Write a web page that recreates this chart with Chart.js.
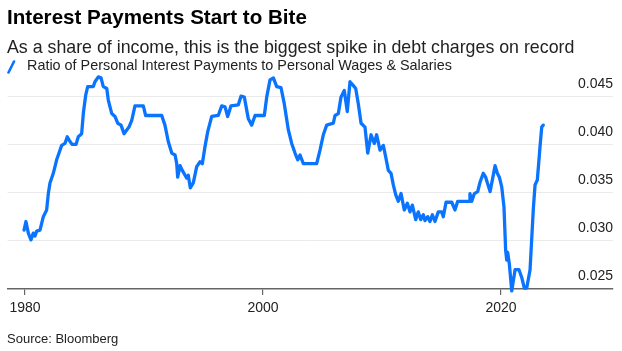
<!DOCTYPE html>
<html>
<head>
<meta charset="utf-8">
<script src="https://cdn.jsdelivr.net/npm/chart.js@4"></script>
<style>
  html, body { margin: 0; padding: 0; background: #fff; }
  body { width: 622px; height: 351px; position: relative; overflow: hidden; font-family: "Liberation Sans", Arial, sans-serif; color: #111; }
  .txt { position: absolute; left: 7px; white-space: nowrap; line-height: 1; }
  #title { top: 7.3px; font-size: 20.6px; font-weight: bold; color: #000; }
  #subtitle { top: 38.9px; font-size: 17.8px; color: #222; }
  #legend { top: 57.8px; left: 27px; font-size: 14.4px; color: #222; }
  #legendIcon { position: absolute; left: 7px; top: 60px; }
  #source { top: 332.3px; font-size: 13px; color: #222; }
  #wrap { position: absolute; left: 0; top: 0; width: 622px; height: 351px; }
</style>
</head>
<body>
<div id="wrap"><canvas id="chart"></canvas></div>
<div class="txt" id="title">Interest Payments Start to Bite</div>
<div class="txt" id="subtitle">As a share of income, this is the biggest spike in debt charges on record</div>
<svg id="legendIcon" width="9" height="14"><line x1="1.5" y1="12.5" x2="7" y2="1.5" stroke="#0a74ff" stroke-width="2.6" stroke-linecap="round"/></svg>
<div class="txt" id="legend"></div>
<div class="txt" id="source">Source: Bloomberg</div>
<script>
// values
const seriesLabel = 'Ratio of Personal Interest Payments to Personal Wages & Salaries';

const years = [
  1979.92, 1980.08, 1980.28, 1980.50, 1980.70, 1980.84, 1980.98, 1981.26, 1981.54, 1981.82,
  1981.96, 1982.10, 1982.38, 1982.66, 1982.94, 1983.08, 1983.36, 1983.55, 1983.78, 1983.97,
  1984.29, 1984.48, 1984.76, 1984.90, 1985.10, 1985.27, 1985.74, 1985.88, 1986.16, 1986.39,
  1986.58, 1986.87, 1987.00, 1987.29, 1987.56, 1987.79, 1988.07, 1988.32, 1988.55, 1988.74,
  1988.97, 1989.24, 1989.94, 1990.14, 1991.49, 1991.76, 1992.04, 1992.33, 1992.61, 1992.75,
  1992.83, 1993.03, 1993.22, 1993.45, 1993.59, 1993.72, 1993.89, 1994.14, 1994.43, 1994.71,
  1994.90, 1995.13, 1995.35, 1995.69, 1996.24, 1996.53, 1996.81, 1997.03, 1997.31, 1997.92,
  1998.15, 1998.43, 1998.76, 1999.05, 1999.33, 2000.11, 2000.31, 2000.59, 2000.87, 2001.15,
  2001.51, 2001.79, 2002.13, 2002.41, 2002.69, 2002.92, 2003.11, 2003.39, 2004.51, 2004.79,
  2005.07, 2005.35, 2005.91, 2006.05, 2006.33, 2006.55, 2006.83, 2007.08, 2007.31, 2007.59,
  2007.79, 2008.01, 2008.24, 2008.57, 2008.80, 2009.08, 2009.35, 2009.55, 2009.83, 2010.11,
  2010.31, 2010.53, 2010.76, 2010.95, 2011.15, 2011.37, 2011.60, 2011.87, 2012.13, 2012.35,
  2012.55, 2012.83, 2013.05, 2013.25, 2013.47, 2013.61, 2013.84, 2014.03, 2014.23, 2014.45,
  2014.73, 2015.02, 2015.15, 2015.38, 2015.86, 2016.13, 2016.36, 2017.12, 2017.31, 2017.39,
  2017.54, 2017.76, 2018.04, 2018.24, 2018.51, 2018.71, 2019.08, 2019.27, 2019.50, 2019.69,
  2019.86, 2020.06, 2020.25, 2020.39, 2020.48, 2020.56, 2020.70, 2020.90, 2021.18, 2021.51,
  2021.74, 2021.96, 2022.16, 2022.44, 2022.71, 2022.86, 2023.05, 2023.28, 2023.42, 2023.55
];

const ratio = [
  0.0311, 0.0320, 0.0308, 0.0301, 0.0308, 0.0305, 0.0310, 0.0311, 0.0325, 0.0332,
  0.0349, 0.0360, 0.0370, 0.0384, 0.0394, 0.0399, 0.0401, 0.0408, 0.0403, 0.0400,
  0.0400, 0.0408, 0.0411, 0.0432, 0.0451, 0.0460, 0.0460, 0.0465, 0.0470, 0.0469,
  0.0460, 0.0458, 0.0446, 0.0432, 0.0429, 0.0422, 0.0420, 0.0411, 0.0415, 0.0418,
  0.0425, 0.0440, 0.0440, 0.0430, 0.0430, 0.0420, 0.0403, 0.0391, 0.0389, 0.0380,
  0.0366, 0.0378, 0.0373, 0.0368, 0.0365, 0.0368, 0.0355, 0.0360, 0.0377, 0.0382,
  0.0380, 0.0398, 0.0413, 0.0429, 0.0430, 0.0440, 0.0439, 0.0429, 0.0440, 0.0441,
  0.0450, 0.0449, 0.0427, 0.0420, 0.0430, 0.0430, 0.0449, 0.0467, 0.0469, 0.0460,
  0.0459, 0.0442, 0.0415, 0.0401, 0.0391, 0.0384, 0.0389, 0.0380, 0.0380, 0.0394,
  0.0410, 0.0420, 0.0422, 0.0430, 0.0432, 0.0449, 0.0456, 0.0434, 0.0465, 0.0461,
  0.0458, 0.0442, 0.0422, 0.0418, 0.0391, 0.0410, 0.0401, 0.0410, 0.0394, 0.0399,
  0.0387, 0.0373, 0.0370, 0.0358, 0.0348, 0.0341, 0.0349, 0.0332, 0.0339, 0.0330,
  0.0337, 0.0322, 0.0330, 0.0322, 0.0327, 0.0321, 0.0325, 0.0320, 0.0327, 0.0320,
  0.0330, 0.0330, 0.0325, 0.0340, 0.0340, 0.0332, 0.0341, 0.0341, 0.0341, 0.0349,
  0.0341, 0.0349, 0.0351, 0.0361, 0.0370, 0.0366, 0.0351, 0.0363, 0.0378, 0.0370,
  0.0366, 0.0356, 0.0335, 0.0290, 0.0280, 0.0288, 0.0276, 0.0248, 0.0270, 0.0270,
  0.0262, 0.0251, 0.0251, 0.0270, 0.0332, 0.0358, 0.0363, 0.0398, 0.0418, 0.0420
];

const xTicks = [1980, 2000, 2020];
const yTicks = [0.025, 0.030, 0.035, 0.040, 0.045];

document.getElementById('legend').textContent = seriesLabel;

const points = years.map((yr, i) => ({ x: yr, y: ratio[i] }));
const tickFont = { family: '"Liberation Sans", Arial, sans-serif', size: 14 };

new Chart(document.getElementById('chart'), {
  type: 'line',
  data: {
    datasets: [{
      label: seriesLabel,
      data: points,
      borderColor: '#0a74ff',
      borderWidth: 3.3,
      pointRadius: 0,
      tension: 0,
      borderJoinStyle: 'round',
      borderCapStyle: 'round',
      clip: 6
    }]
  },
  options: {
    responsive: true,
    maintainAspectRatio: false,
    animation: false,
    layout: { padding: { left: 7.5, right: 9, top: 75, bottom: 0 } },
    plugins: { legend: { display: false }, tooltip: { enabled: false } },
    scales: {
      x: {
        type: 'linear',
        min: 1978.53,
        max: 2029.41,
        afterFit: s => { s.height = 62; },
        afterBuildTicks: s => { s.ticks = xTicks.map(v => ({ value: v })); },
        grid: { display: true, drawOnChartArea: false, drawTicks: true, tickLength: 6, color: '#666', lineWidth: 1.2 },
        border: { display: true, color: '#666', width: 1.5 },
        ticks: { font: tickFont, color: '#222', padding: 5, maxRotation: 0, callback: v => String(v) }
      },
      y: {
        position: 'right',
        min: 0.025,
        max: 0.0472,
        afterFit: s => { s.width = 0; },
        afterBuildTicks: s => { s.ticks = yTicks.map(v => ({ value: v })); },
        grid: {
          drawTicks: false,
          lineWidth: 1,
          color: c => (c.tick && c.tick.value === 0.025) ? 'rgba(0,0,0,0)' : '#eaeaea'
        },
        border: { display: false },
        ticks: { mirror: true, padding: 0, labelOffset: -12.5, font: tickFont, color: '#222', callback: v => v.toFixed(3) }
      }
    }
  }
});
</script>
</body>
</html>
